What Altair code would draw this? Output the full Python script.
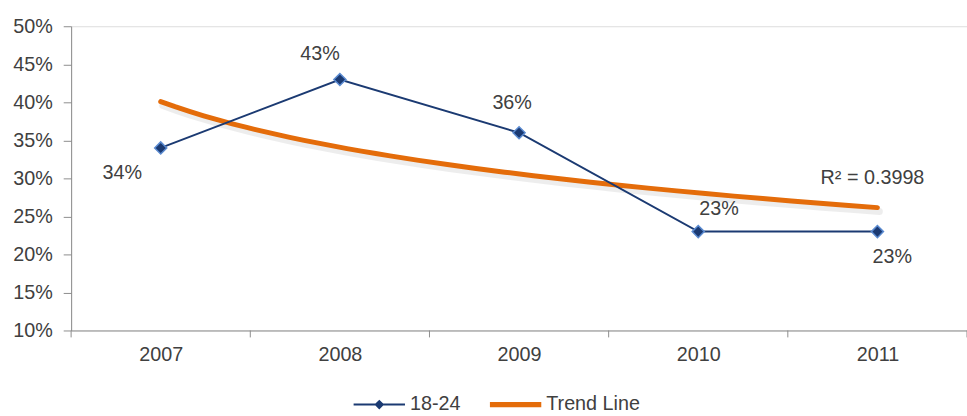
import altair as alt
import pandas as pd

# Share of 18-24 year olds by year
years = ["2007", "2008", "2009", "2010", "2011"]
year_index = [1, 2, 3, 4, 5]
share = [0.34, 0.43, 0.36, 0.23, 0.23]
series_names = ["18-24", "Trend Line"]
r_squared_label = "R² = 0.3998"

NAVY = "#1B3A72"
NAVY_EDGE = "#5A8AD0"
ORANGE = "#E46C0A"
TEXT = "#404040"
AXIS = "#8C8C8C"
FONT = "Liberation Sans"

df = pd.DataFrame({"year": years, "idx": year_index, "share": share})
edges = pd.DataFrame({"idx": [i - 0.5 for i in year_index] + [year_index[-1] + 0.5]})

label_expr = "[" + ",".join(f"'{y}'" for y in years) + "][datum.value - 1]"

x_scale = alt.Scale(domain=[0.5, 5.5], nice=False, zero=False)
y_scale = alt.Scale(domain=[0.10, 0.50], nice=False, zero=False)

X = alt.X(
    "idx:Q",
    scale=x_scale,
    axis=alt.Axis(
        title=None, values=year_index, labelExpr=label_expr, ticks=False,
        grid=False, domainColor=AXIS, labelPadding=14, labelFontSize=20,
        labelColor=TEXT, labelFont=FONT,
    ),
)
Y = alt.Y(
    "share:Q",
    scale=y_scale,
    axis=alt.Axis(
        title=None, values=[0.10, 0.15, 0.20, 0.25, 0.30, 0.35, 0.40, 0.45, 0.50],
        format=".0%", grid=False, domainColor=AXIS, tickColor=AXIS, tickSize=8,
        labelPadding=11, labelFontSize=20, labelColor=TEXT, labelFont=FONT,
    ),
)

base = alt.Chart(df)

# Logarithmic trend fitted to the yearly shares
trend_base = base.transform_regression("idx", "share", method="log", extent=[1, 5])
trend_shadow = trend_base.mark_line(
    color="#000000", opacity=0.07, strokeWidth=7, yOffset=4, xOffset=2, strokeCap="round"
).encode(x=X, y=Y)
trend = trend_base.mark_line(color=ORANGE, strokeWidth=5, strokeCap="round").encode(x=X, y=Y)

line = base.mark_line(color=NAVY, strokeWidth=2).encode(x=X, y=Y)
points = base.mark_point(
    shape="diamond", filled=True, size=150, fill=NAVY, stroke=NAVY_EDGE,
    strokeWidth=1.5, opacity=1,
).encode(x=X, y=Y)

# Category boundary ticks under the x axis
boundary_ticks = alt.Chart(edges).mark_rule(color=AXIS, strokeWidth=1).encode(
    x=X,
    y=alt.value(308),
    y2=alt.value(315),
)

# Value labels, each nudged off its marker
label_offsets = {
    "2007": (-39, 25),
    "2008": (-20, -26),
    "2009": (-7, -30),
    "2010": (21, -23),
    "2011": (15, 26),
}
labels = []
for yr, (dx, dy) in label_offsets.items():
    labels.append(
        base.transform_filter(alt.datum.year == yr)
        .mark_text(dx=dx, dy=dy, fontSize=20, font=FONT, color=TEXT, baseline="middle")
        .encode(x=X, y=Y, text=alt.Text("share:Q", format=".0%"))
    )

r2 = alt.Chart(pd.DataFrame({"idx": [5], "share": [0.30], "t": [r_squared_label]})).mark_text(
    fontSize=20, font=FONT, color=TEXT, dx=-5, baseline="middle"
).encode(x=X, y=Y, text="t:N")

# Legend carrier: line-with-diamond and thick-line symbols (marks kept off-canvas)
legend_shapes = [
    "M-1,-0.04L1,-0.04L1,0.04L-1,0.04Z M0,-0.19L0.19,0L0,0.19L-0.19,0Z",
    "M-1,-0.1L1,-0.1L1,0.1L-1,0.1Z",
]
legend_layer = alt.Chart(pd.DataFrame({"series": series_names})).mark_point(
    filled=True, opacity=1, size=10
).encode(
    x=alt.value(-600),
    y=alt.value(-600),
    color=alt.Color(
        "series:N",
        scale=alt.Scale(domain=series_names, range=[NAVY, ORANGE]),
        legend=alt.Legend(
            title=None, orient="none", direction="horizontal", legendX=286, legendY=357,
            symbolSize=2704, symbolStrokeWidth=0, symbolOpacity=1, labelFontSize=20,
            labelFont=FONT, labelColor=TEXT, labelOffset=5, columnPadding=29,
        ),
    ),
    shape=alt.Shape("series:N", scale=alt.Scale(domain=series_names, range=legend_shapes)),
)

chart = alt.layer(
    boundary_ticks, trend_shadow, trend, line, points, *labels, r2, legend_layer
).properties(
    width=907,
    height=308,
    autosize=alt.AutoSizeParams(type="none"),
    padding={"left": 72, "top": 24, "right": 0, "bottom": 84},
).configure_view(stroke=None).configure(background="white")

chart.save("out.html", embed_options={"renderer": "svg", "actions": False})
